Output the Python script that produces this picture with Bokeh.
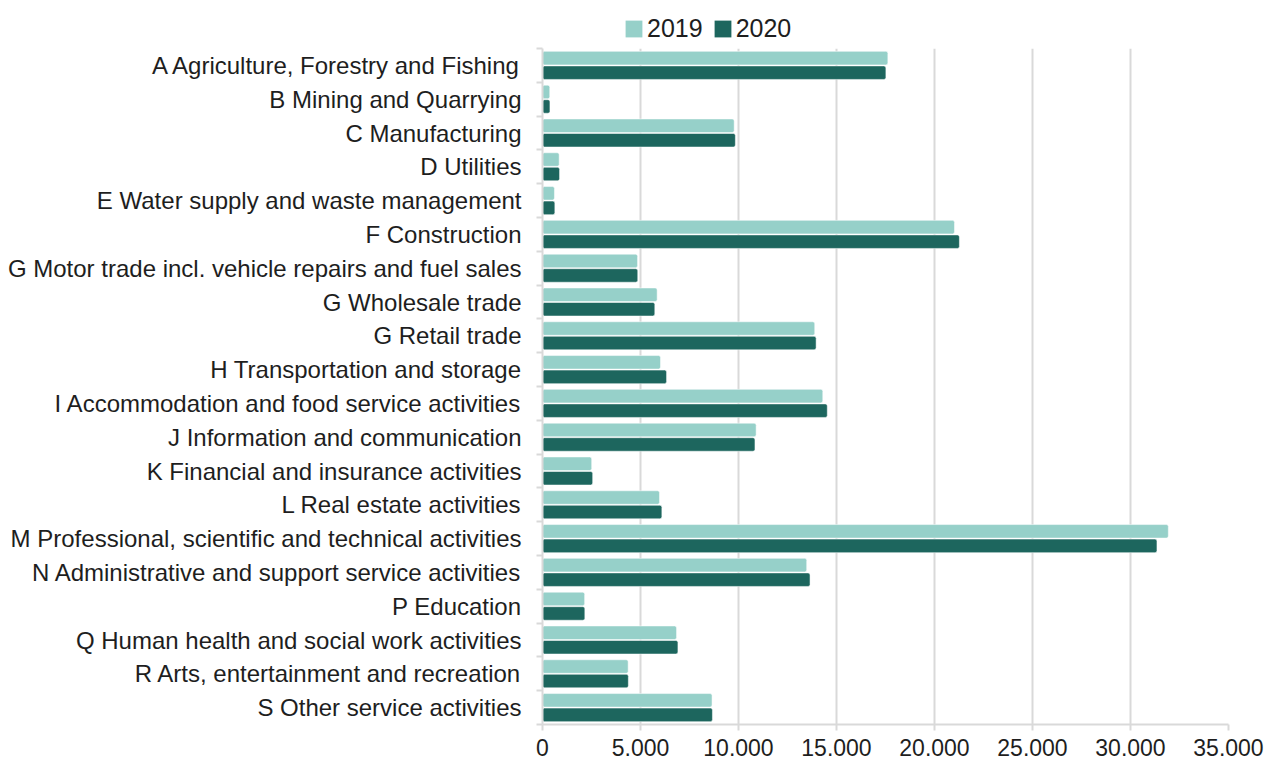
from bokeh.plotting import figure
from bokeh.models import (ColumnDataSource, Range1d, FixedTicker, CustomJSTickFormatter,
                          Legend, LegendItem)
from bokeh.layouts import column
from bokeh.transform import dodge
from bokeh.embed import file_html
from bokeh.resources import INLINE

categories = [
    "A Agriculture, Forestry and Fishing",
    "B Mining and Quarrying",
    "C Manufacturing",
    "D Utilities",
    "E Water supply and waste management",
    "F Construction",
    "G Motor trade incl. vehicle repairs and fuel sales",
    "G Wholesale trade",
    "G Retail trade",
    "H Transportation and storage",
    "I Accommodation and food service activities",
    "J Information and communication",
    "K Financial and insurance activities",
    "L Real estate activities",
    "M Professional, scientific and technical activities",
    "N Administrative and support service activities",
    "P Education",
    "Q Human health and social work activities",
    "R Arts, entertainment and recreation",
    "S Other service activities",
]
values_2019 = [17620, 370, 9780, 850, 610, 21020, 4850, 5850, 13890, 6020,
               14300, 10900, 2510, 5970, 31930, 13480, 2150, 6840, 4370, 8650]
values_2020 = [17520, 380, 9840, 870, 630, 21270, 4860, 5730, 13960, 6330,
               14530, 10840, 2560, 6090, 31350, 13650, 2160, 6910, 4380, 8670]
x_ticks = [0, 5000, 10000, 15000, 20000, 25000, 30000, 35000]
series = ["2019", "2020"]
colors = ["#96d0c9", "#1d665e"]

n = len(categories)
src = ColumnDataSource(dict(
    y=[i + 0.5 for i in range(n)],
    v2019=values_2019,
    v2020=values_2020,
))

FONT = "Liberation Sans"
TXT = "#1e1e1e"
GRID = "#d9d9d9"

# ---- main chart ----
p = figure(width=1267, height=716, output_backend="svg", toolbar_location=None,
           x_range=Range1d(0, 35000), y_range=Range1d(n, 0),
           min_border_left=542, min_border_right=39, min_border_top=4,
           min_border_bottom=36)
p.outline_line_color = None

bar_style = dict(line_color="white", line_alpha=0.5, line_width=1, border_radius=2)
r1 = p.hbar(y=dodge("y", -0.215, range=p.y_range), right="v2019", left=0, height=0.40,
            source=src, fill_color=colors[0], **bar_style)
r2 = p.hbar(y=dodge("y", 0.215, range=p.y_range), right="v2020", left=0, height=0.40,
            source=src, fill_color=colors[1], **bar_style)

p.xaxis.ticker = FixedTicker(ticks=x_ticks)
p.xaxis.formatter = CustomJSTickFormatter(
    code="return tick.toFixed(0).replace(/\\B(?=(\\d{3})+(?!\\d))/g, '.');")
p.xaxis.major_label_text_font = FONT
p.xaxis.major_label_text_font_size = "23px"
p.xaxis.major_label_text_color = TXT
p.xaxis.axis_line_color = GRID
p.xaxis.axis_line_width = 2
p.xaxis.major_tick_line_color = GRID
p.xaxis.major_tick_line_width = 2
p.xaxis.major_tick_out = 6
p.xaxis.major_tick_in = 0
p.xaxis.minor_tick_line_color = None
p.xaxis.major_label_standoff = 8

p.xgrid.ticker = FixedTicker(ticks=x_ticks)
p.xgrid.grid_line_color = GRID
p.xgrid.grid_line_width = 2
p.ygrid.visible = False

p.yaxis.ticker = FixedTicker(ticks=[i + 0.5 for i in range(n)],
                             minor_ticks=list(range(n + 1)))
p.yaxis.formatter = CustomJSTickFormatter(
    args=dict(labels=categories),
    code="const i = Math.floor(tick); return (i >= 0 && i < labels.length) ? labels[i] : '';")
p.yaxis.major_label_text_font = FONT
p.yaxis.major_label_text_font_size = "24px"
p.yaxis.major_label_text_color = TXT
p.yaxis.axis_line_color = GRID
p.yaxis.axis_line_width = 2
p.yaxis.major_tick_line_color = None
p.yaxis.major_tick_out = 0
p.yaxis.major_tick_in = 0
p.yaxis.minor_tick_line_color = GRID
p.yaxis.minor_tick_line_width = 2
p.yaxis.minor_tick_out = 6
p.yaxis.minor_tick_in = 0
p.yaxis.major_label_standoff = 15

# ---- legend strip (frame aligned with the main chart's frame) ----
# Same series renderers, but the strip's ranges lie far away from the data,
# so only the legend is visible here.
lg = figure(width=1267, height=44, output_backend="svg", toolbar_location=None,
            x_range=Range1d(-1e7, -1e7 + 35000), y_range=Range1d(-1000, -999),
            min_border=0)
lg.outline_line_color = None
lg.axis.visible = False
lg.grid.visible = False
d1 = lg.hbar(y="y", right="v2019", left=0, height=0.4, source=src,
             fill_color=colors[0], line_color=None, border_radius=2)
d2 = lg.hbar(y="y", right="v2020", left=0, height=0.4, source=src,
             fill_color=colors[1], line_color=None, border_radius=2)
legend = Legend(items=[LegendItem(label=series[0], renderers=[d1]),
                       LegendItem(label=series[1], renderers=[d2])],
                orientation="horizontal", location=(81, 1),
                glyph_width=21, glyph_height=21, label_standoff=3, spacing=9,
                padding=0, margin=0, border_line_color=None,
                background_fill_alpha=0,
                label_text_font=FONT, label_text_font_size="25px",
                label_text_color=TXT)
lg.add_layout(legend, "center")

layout = column(lg, p, spacing=0)
open("out.html", "w").write(file_html(layout, INLINE))
